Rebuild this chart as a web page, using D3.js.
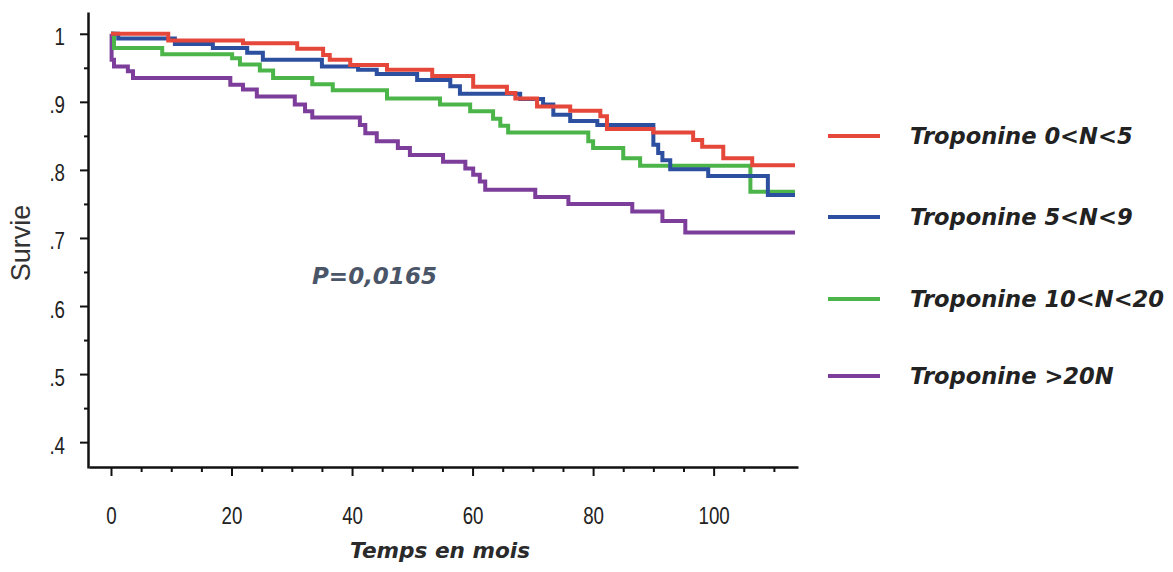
<!DOCTYPE html>
<html>
<head>
<meta charset="utf-8">
<script src="https://cdn.jsdelivr.net/npm/d3@7"></script>
<style>
  html, body { margin: 0; padding: 0; background: #fff; }
  svg { display: block; }
</style>
</head>
<body>
<svg id="chart" width="1173" height="572"></svg>
<script>
// ---- data (time in months, survival) ----
const seriesNames = ["Troponine 0<N<5", "Troponine 5<N<9", "Troponine 10<N<20", "Troponine >20N"];

const tropo0to5 = [[0,1.0],[9.5,0.990],[21.9,0.986],[30.9,0.978],[35.2,0.969],[36.3,0.962],[39.7,0.954],[45.8,0.947],[53.3,0.938],[60.1,0.922],[65.7,0.913],[67.1,0.905],[70.7,0.893],[76.2,0.887],[81.2,0.879],[82.3,0.860],[90.0,0.855],[96.6,0.844],[98.1,0.834],[101.6,0.817],[106.4,0.807],[113.5,0.807]];

const tropo5to9 = [[0,1.0],[1.2,0.993],[10.6,0.985],[16.9,0.979],[22.6,0.972],[25.2,0.962],[35.0,0.952],[41.0,0.947],[44.1,0.941],[50.8,0.932],[56.3,0.923],[57.9,0.912],[67.9,0.904],[71.7,0.896],[73.4,0.881],[76.2,0.872],[80.7,0.866],[90.0,0.837],[90.8,0.825],[91.5,0.814],[92.8,0.801],[99.1,0.791],[109.0,0.763],[113.5,0.763]];

const tropo10to20 = [[0,1.0],[0.5,0.979],[8.5,0.970],[20.1,0.964],[21.4,0.955],[24.7,0.946],[26.9,0.935],[33.4,0.926],[36.8,0.917],[45.8,0.905],[54.6,0.896],[59.6,0.886],[63.4,0.875],[64.6,0.865],[65.9,0.855],[79.2,0.842],[80.0,0.832],[85.0,0.817],[87.8,0.806],[106.1,0.768],[113.5,0.768]];

const tropoOver20 = [[0,1.0],[0.1,0.962],[0.5,0.952],[2.8,0.945],[3.65,0.935],[19.8,0.925],[21.9,0.918],[24.2,0.908],[30.5,0.896],[32.2,0.886],[33.4,0.877],[41.3,0.866],[42.2,0.854],[44.1,0.842],[47.6,0.832],[49.6,0.822],[55.1,0.812],[58.8,0.802],[60.1,0.793],[61.2,0.783],[62.1,0.771],[70.4,0.760],[75.9,0.750],[86.5,0.739],[91.5,0.725],[95.3,0.708],[113.5,0.708]];

const xMajorTicks = [0, 20, 40, 60, 80, 100];
const xMinorTicks = [5, 10, 15, 25, 30, 35, 45, 50, 55, 65, 70, 75, 85, 90, 95, 105, 110];
const yMajorTicks = [0.4, 0.5, 0.6, 0.7, 0.8, 0.9, 1.0];
const yTickLabels = [".4", ".5", ".6", ".7", ".8", ".9", "1"];
const yMinorTicks = [0.45, 0.55, 0.65, 0.75, 0.85, 0.95];

const pValueText = "P=0,0165";
const xTitle = "Temps en mois";
const yTitle = "Survie";

// ---- drawing ----
const colors = ["#e5473b", "#2d4f9f", "#4cb54a", "#7d3e9b"];
const seriesData = [tropo0to5, tropo5to9, tropo10to20, tropoOver20];

const svg = d3.select("#chart");

const x = d3.scaleLinear().domain([-3.65, 114.0]).range([89, 798]);
const y = d3.scaleLinear().domain([0.362, 1.032]).range([468, 12]);

const axisX0 = 88, axisY0 = 467;

// Y axis
const yAxis = svg.append("g").attr("transform", `translate(${axisX0},0)`);
yAxis.call(d3.axisLeft(y).tickValues(yMajorTicks).tickSize(8).tickSizeOuter(0)
  .tickFormat((d, i) => yTickLabels[i]));
yAxis.append("g").call(d3.axisLeft(y).tickValues(yMinorTicks).tickSize(4).tickFormat(""))
  .select(".domain").remove();
yAxis.selectAll(".domain").attr("stroke", "#111").attr("stroke-width", 2.5);
yAxis.selectAll(".tick line").attr("stroke", "#111").attr("stroke-width", 2);
yAxis.selectAll(".tick text")
  .attr("x", 0).attr("dy", null)
  .attr("transform", "translate(-23,11) scale(0.78,1)")
  .attr("text-anchor", "end")
  .style("font-family", "'Liberation Sans', Arial, sans-serif")
  .style("font-size", "24px")
  .attr("fill", "#222");

// X axis
const xAxis = svg.append("g").attr("transform", `translate(0,${axisY0})`);
xAxis.call(d3.axisBottom(x).tickValues(xMajorTicks).tickSize(9).tickSizeOuter(0).tickFormat(d3.format("d")));
xAxis.append("g").call(d3.axisBottom(x).tickValues(xMinorTicks).tickSize(5).tickFormat(""))
  .select(".domain").remove();
xAxis.selectAll(".domain").attr("stroke", "#111").attr("stroke-width", 2.5);
xAxis.selectAll(".tick line").attr("stroke", "#111").attr("stroke-width", 2);
xAxis.selectAll(".tick text")
  .attr("y", 0).attr("dy", null)
  .attr("transform", "translate(0,57) scale(0.78,1)")
  .attr("text-anchor", "middle")
  .style("font-family", "'Liberation Sans', Arial, sans-serif")
  .style("font-size", "24px")
  .attr("fill", "#222");

// Curves
const line = d3.line().x(d => x(d[0])).y(d => y(d[1])).curve(d3.curveStepAfter);
const order = [3, 2, 1, 0];
svg.append("g").selectAll("path").data(order).join("path")
  .attr("d", i => line(seriesData[i]))
  .attr("fill", "none")
  .attr("stroke", i => colors[i])
  .attr("stroke-width", 4)
  .attr("stroke-linejoin", "miter");

// Axis titles
svg.append("text")
  .attr("transform", `translate(30,243) rotate(-90)`)
  .attr("text-anchor", "middle")
  .style("font-family", "'Liberation Sans', Arial, sans-serif")
  .style("font-size", "27px")
  .attr("fill", "#333")
  .text(yTitle);

svg.append("text")
  .attr("x", 440).attr("y", 558)
  .attr("text-anchor", "middle")
  .style("font-family", "'DejaVu Sans', sans-serif")
  .style("font-size", "21.6px").style("font-weight", "bold").style("font-style", "italic")
  .attr("fill", "#2a2a2a")
  .text(xTitle);

// P value
svg.append("text")
  .attr("x", 312).attr("y", 284)
  .style("font-family", "'DejaVu Sans', sans-serif")
  .style("font-size", "23px").style("font-weight", "bold").style("font-style", "italic")
  .attr("fill", "#4a5568")
  .text(pValueText);

// Legend
const legendY = [136, 217, 299, 376];
const legend = svg.append("g");
legend.selectAll("line").data(seriesNames).join("line")
  .attr("x1", 828).attr("x2", 880)
  .attr("y1", (d, i) => legendY[i]).attr("y2", (d, i) => legendY[i])
  .attr("stroke", (d, i) => colors[i]).attr("stroke-width", 4);
legend.selectAll("text").data(seriesNames).join("text")
  .attr("x", 910).attr("y", (d, i) => legendY[i] + 8)
  .style("font-family", "'DejaVu Sans', sans-serif")
  .style("font-size", "22.6px").style("font-weight", "bold").style("font-style", "italic")
  .attr("fill", "#222")
  .text(d => d);
</script>
</body>
</html>
